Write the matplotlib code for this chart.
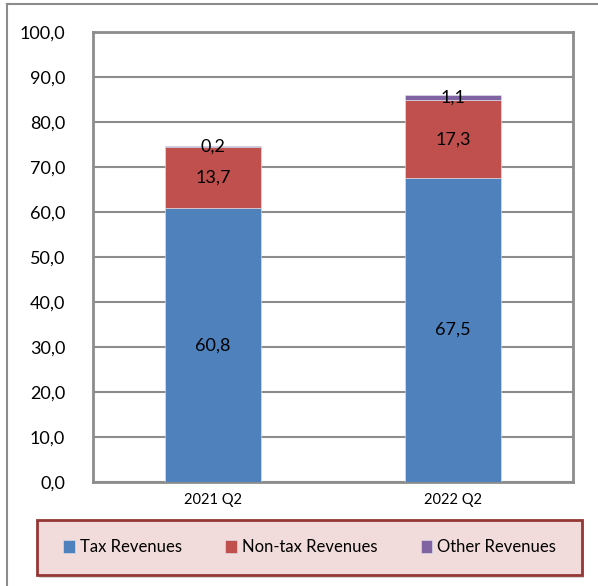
import matplotlib.pyplot as plt
from matplotlib.patches import Rectangle
from matplotlib.lines import Line2D

plt.rcParams['font.family'] = ['Lato', 'DejaVu Sans']

categories = ['2021 Q2', '2022 Q2']
tax = [60.8, 67.5]
non_tax = [13.7, 17.3]
other = [0.2, 1.1]
series_names = ['Tax Revenues', 'Non-tax Revenues', 'Other Revenues']
colors = ['#4F81BD', '#C0504D', '#8064A2']

fig = plt.figure(figsize=(5.98, 5.86), dpi=100)
ax = fig.add_axes([0.1555, 0.1775, 0.8027, 0.7679])

x = range(len(categories))
bottoms = [0.0] * len(categories)
for vals, col, name in zip([tax, non_tax, other], colors, series_names):
    ax.bar(x, vals, width=0.4, bottom=bottoms, color=col, label=name,
           edgecolor='#dfe6f0', linewidth=0.4, zorder=3)
    for i, v in enumerate(vals):
        ax.text(i, bottoms[i] + v / 2, f'{v:.1f}'.replace('.', ','),
                ha='center', va='center', fontsize=13, color='black', zorder=4)
    bottoms = [b + v for b, v in zip(bottoms, vals)]

ax.set_xlim(-0.5, 1.5)
ax.set_ylim(0, 100)
yt = [i * 10 for i in range(11)]
ax.set_yticks(yt)
ax.set_yticklabels([f'{t:.1f}'.replace('.', ',') for t in yt], fontsize=13)
ax.set_xticks(list(x))
ax.set_xticklabels(categories, fontsize=10.5)
ax.tick_params(axis='y', length=0, pad=20)
ax.tick_params(axis='x', length=0, pad=8)
ax.grid(axis='y', color='#8c8c8c', linewidth=1.5, zorder=0)
for s in ax.spines.values():
    s.set_color('#8c8c8c')
    s.set_linewidth(2)

# outer frame lines (left and top)
fig.add_artist(Line2D([7 / 598, 7 / 598], [0, 1 - 4 / 586], color='#8c8c8c', lw=1.5))
fig.add_artist(Line2D([7 / 598, 1], [1 - 4 / 586, 1 - 4 / 586], color='#8c8c8c', lw=1.5))

# legend box with shadow
lx, ly, lw, lh = 0.0619, 0.0188, 0.9114, 0.0939
fig.add_artist(Rectangle((lx + 0.004, ly - 0.005), lw, lh, transform=fig.transFigure,
                         facecolor='#bbbbbb', edgecolor='none', alpha=0.6))
fig.add_artist(Rectangle((lx, ly), lw, lh, transform=fig.transFigure,
                         facecolor='#F2DCDB', edgecolor='#953735', linewidth=2))
handles, labels = ax.get_legend_handles_labels()
fig.legend(handles, labels, loc='center', bbox_to_anchor=(lx + lw / 2, ly + lh / 2),
           ncol=3, frameon=False, fontsize=12, handlelength=0.7, handleheight=0.8,
           handletextpad=0.3, columnspacing=2.6)

fig.savefig('out.png', dpi=100)
